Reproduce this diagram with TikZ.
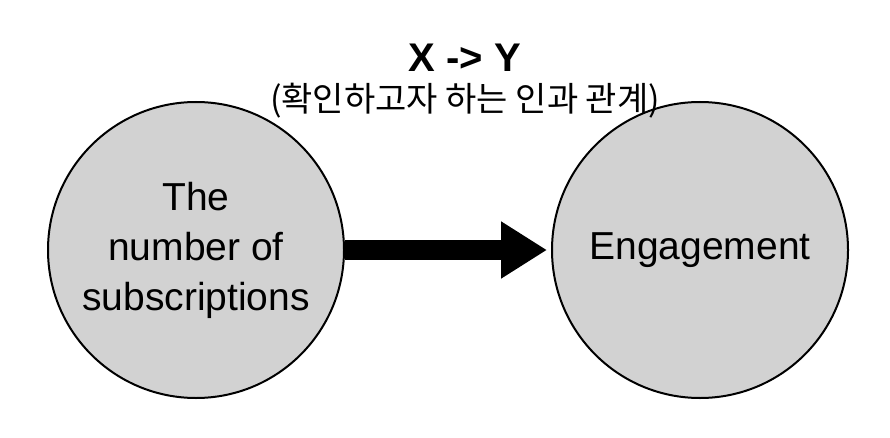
\documentclass[tikz,border=0pt]{standalone}
\usepackage{fontspec}
\setmainfont{Liberation Sans}
\newfontfamily\krfont{Noto Sans CJK KR}
\usetikzlibrary{arrows.meta}
\tikzset{
  var/.style={circle, draw, line width=2pt, fill=gray!35, minimum size=296pt,
    align=center, font=\fontsize{39}{50}\selectfont, inner sep=0pt},
}
\begin{document}
\begin{tikzpicture}[x=1pt,y=-1pt]
\useasboundingbox (0,0) rectangle (890,438);
\node[var] (cause) at (196,250) {The\\number of\\subscriptions};
\node[var] (effect) at (700,250) {Engagement};

\node[font=\fontsize{40}{46}\selectfont\bfseries] (title) at (465,58) {X -> Y};
\node[font=\krfont\fontsize{34}{40}\selectfont] (sub) at (465,101) {(확인하고자 하는 인과 관계)};

\draw[line width=20pt, -{Triangle[length=46pt,width=54pt]}, shorten >=4pt]
  (cause) -- (effect);
\end{tikzpicture}
\end{document}
